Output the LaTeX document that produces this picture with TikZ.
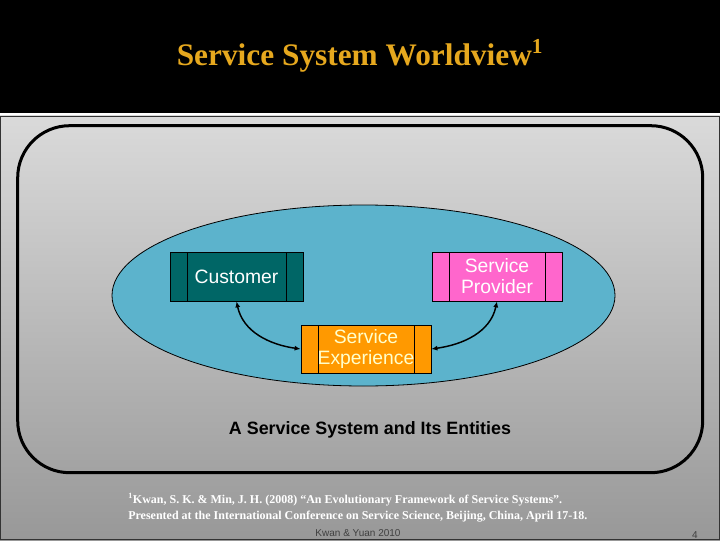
\documentclass[tikz,border=0pt]{standalone}
\usepackage{fontspec}
\setmainfont{Liberation Sans}
\newfontfamily\titlefont{Liberation Serif}
\usetikzlibrary{arrows.meta}

\definecolor{titlegold}{RGB}{230,168,30}
\definecolor{panelhi}{RGB}{218,218,218}
\definecolor{panello}{RGB}{152,152,152}
\definecolor{worldblue}{RGB}{92,179,204}
\definecolor{custteal}{RGB}{0,102,102}
\definecolor{provpink}{RGB}{255,102,204}
\definecolor{exporange}{RGB}{255,153,0}
\definecolor{expyellow}{RGB}{255,255,204}

\begin{document}
\begin{tikzpicture}[x=0.75pt, y=0.75pt,
	sidebox/.style={draw=black, line width=0.6pt, inner sep=0pt, align=center,
		minimum width=97.5pt, minimum height=36.75pt,
		font=\fontsize{14.5}{15.8}\selectfont,
		path picture={\draw[line width=0.6pt]
			([xshift=12.75pt]path picture bounding box.north west) -- ([xshift=12.75pt]path picture bounding box.south west)
			([xshift=-12.75pt]path picture bounding box.north east) -- ([xshift=-12.75pt]path picture bounding box.south east);}},
	link/.style={line width=1.1pt, {Latex[length=4.5pt,width=3.8pt]}-{Latex[length=4.5pt,width=3.8pt]}}]
	\useasboundingbox (0,0) rectangle (720,540);
	% title band and panel
	\fill[black] (0,427) rectangle (720,540);
	\fill[white] (0,424) rectangle (720,427);
	\shade[top color=panelhi, bottom color=panello] (0,0) rectangle (720,424);
	\draw[gray!40!black, line width=1pt] (0.5,0.5) rectangle (719.5,423.5);
	\node (title) at (360,484) {\titlefont\bfseries\color{titlegold}\fontsize{23.5}{26}\selectfont Service System Worldview\textsuperscript{\fontsize{16}{18}\selectfont 1}};
	% system boundary
	\draw[line width=2.25pt, rounded corners=39pt] (17.7,67.3) rectangle (702.7,414.3);
	\draw[fill=worldblue, line width=0.6pt] (363.5,244.5) ellipse [x radius=251.5, y radius=90.5];
	% entities
	\node [sidebox, fill=custteal, text=white, minimum width=99.75pt] (cust) at (236.5,263.5) {Customer};
	\node [sidebox, fill=provpink, text=white] (prov) at (497,263.5) {Service\\Provider};
	\node [sidebox, fill=exporange, text=expyellow, minimum height=36pt] (exp) at (366,191) {Service\\Experience};
	\draw [link] (cust.south) to[out=-78, in=172] (exp.west);
	\draw [link] (prov.south) to[out=-102, in=8] (exp.east);
	\node (caption) at (370,110) {\bfseries\fontsize{13.4}{15}\selectfont A Service System and Its Entities};
	% footnote
	\node [anchor=west, align=left, text=white, inner sep=0pt,
		font=\titlefont\bfseries\fontsize{9}{11.5}\selectfont] (ref) at (128,32.5)%
		{\textsuperscript{1}Kwan, S. K. \& Min, J. H. (2008) “An Evolutionary Framework of Service Systems”.\\
		Presented at the International Conference on Service Science, Beijing, China, April 17-18.};
	\node [text=black!75, font=\fontsize{7.5}{9}\selectfont] (auth) at (358,7) {Kwan \& Yuan 2010};
	\node [text=black!75, font=\fontsize{7.5}{9}\selectfont] (page) at (695,5) {4};
\end{tikzpicture}
\end{document}
